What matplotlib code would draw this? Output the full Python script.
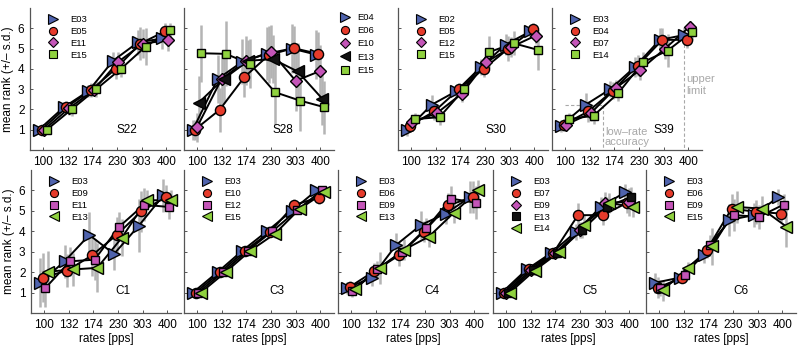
import numpy as np
import matplotlib.pyplot as plt
from matplotlib.lines import Line2D

plt.rcParams['font.family'] = ['Liberation Sans', 'DejaVu Sans']

rates = ['100', '132', '174', '230', '303', '400']

BLUE = '#4f63ad'
RED = '#e63b2b'
MAG = '#c455b8'
GREEN = '#8fd13f'
BLACK = '#111111'

# ---- top row (S listeners) ----
S22_labels = ['E03', 'E05', 'E11', 'E15']
S22_means = [[1.0, 2.1, 2.9, 4.4, 5.3, 5.5],
             [1.0, 2.1, 2.95, 4.0, 5.25, 5.85],
             [1.0, 2.05, 2.95, 4.35, 5.25, 5.4],
             [1.0, 2.0, 3.0, 4.0, 5.1, 5.9]]
S22_sds = [[0.15, 0.25, 0.3, 0.45, 0.6, 0.5],
           [0.2, 0.3, 0.35, 0.5, 0.8, 0.4],
           [0.2, 0.3, 0.3, 0.5, 0.7, 0.5],
           [0.15, 0.3, 0.4, 0.4, 0.9, 0.35]]

S28_labels = ['E04', 'E06', 'E10', 'E13', 'E15']
S28_means = [[1.0, 3.5, 4.35, 4.75, 5.0, 4.7],
             [1.0, 1.98, 3.59, 4.69, 5.02, 4.74],
             [1.11, 3.5, 4.4, 4.85, 3.41, 3.9],
             [2.34, 3.5, 4.4, 4.48, 3.87, 2.52],
             [4.77, 4.74, 4.25, 2.85, 2.44, 2.11]]
S28_sds = [[0.5, 1.2, 1.1, 1.3, 1.2, 1.2],
           [0.5, 1.1, 1.0, 1.4, 1.1, 1.1],
           [0.7, 1.3, 1.2, 1.3, 1.5, 1.3],
           [1.3, 1.2, 1.0, 1.2, 1.4, 1.3],
           [1.4, 1.6, 1.2, 1.6, 1.5, 1.3]]

S30_labels = ['E02', 'E05', 'E12', 'E15']
S30_means = [[1.0, 2.23, 2.9, 4.1, 5.2, 5.85],
             [1.2, 1.9, 3.0, 4.0, 5.0, 5.95],
             [1.36, 1.82, 2.77, 4.33, 5.07, 5.64],
             [1.52, 1.62, 3.0, 4.82, 5.26, 4.93]]
S30_sds = [[0.3, 0.5, 0.3, 0.4, 0.5, 0.3],
           [0.3, 0.4, 0.3, 0.4, 0.6, 0.3],
           [0.3, 0.4, 0.4, 0.4, 0.5, 0.4],
           [0.3, 0.4, 0.3, 0.8, 0.6, 1.0]]

S39_labels = ['E03', 'E04', 'E07', 'E14']
S39_means = [[1.2, 2.23, 3.0, 4.1, 5.43, 5.67],
             [1.25, 1.9, 2.93, 4.16, 5.43, 5.43],
             [1.25, 1.82, 3.05, 3.95, 5.0, 6.08],
             [1.52, 1.69, 2.8, 4.33, 4.9, 5.84]]
S39_sds = [[0.3, 0.6, 0.4, 0.5, 0.6, 0.4],
           [0.3, 0.5, 0.4, 0.5, 0.6, 0.4],
           [0.3, 0.4, 0.4, 0.5, 0.5, 0.3],
           [0.3, 0.4, 0.4, 0.5, 0.8, 0.4]]

# ---- bottom row (C listeners) ----
C1_labels = ['E03', 'E09', 'E11', 'E13']
C1_means = [[1.48, 2.53, 3.82, 2.89, 4.27, 5.76],
            [1.73, 2.08, 2.82, 3.82, 4.98, 5.68],
            [1.21, 2.53, 2.61, 4.23, 5.3, 5.19],
            [2.02, 2.13, 2.21, 3.69, 5.52, 5.52]]
C1_sds = [[1.2, 0.8, 1.1, 0.8, 1.3, 0.8],
          [1.2, 0.8, 1.0, 0.9, 1.0, 0.6],
          [0.9, 0.7, 1.0, 0.7, 0.8, 0.6],
          [1.0, 0.8, 1.2, 0.9, 0.5, 0.5]]

C3_labels = ['E03', 'E10', 'E12', 'E15']
C3_means = [[1.0, 2.0, 3.05, 4.0, 5.0, 6.0],
            [1.0, 2.0, 3.05, 3.95, 5.3, 5.65],
            [1.0, 2.0, 3.05, 4.0, 5.03, 6.0],
            [1.0, 2.0, 3.05, 3.88, 5.1, 5.9]]
C3_sds = [[0.1, 0.1, 0.2, 0.2, 0.2, 0.1],
          [0.1, 0.1, 0.2, 0.2, 0.3, 0.3],
          [0.1, 0.1, 0.2, 0.2, 0.2, 0.1],
          [0.1, 0.1, 0.2, 0.2, 0.2, 0.1]]

C4_labels = ['E03', 'E06', 'E09', 'E13']
C4_means = [[1.21, 1.73, 3.34, 4.31, 4.87, 5.68],
            [1.27, 2.05, 2.82, 3.98, 5.27, 5.68],
            [1.08, 2.13, 2.98, 4.15, 5.6, 5.4],
            [1.16, 2.21, 3.1, 3.74, 4.9, 6.0]]
C4_sds = [[0.3, 0.4, 0.6, 0.7, 0.5, 0.8],
          [0.3, 0.4, 0.5, 0.5, 0.6, 0.8],
          [0.3, 0.4, 0.4, 0.5, 0.6, 0.8],
          [0.3, 0.8, 0.5, 0.5, 0.5, 0.5]]

C5_labels = ['E03', 'E07', 'E09', 'E13', 'E14']
C5_means = [[1.0, 2.13, 2.94, 3.98, 5.19, 5.92],
            [1.0, 2.13, 2.94, 4.79, 4.79, 5.4],
            [1.0, 2.1, 2.95, 4.06, 5.4, 5.44],
            [1.0, 2.1, 2.95, 4.06, 5.2, 5.68],
            [1.0, 2.08, 2.98, 4.3, 5.39, 5.19]]
C5_sds = [[0.1, 0.2, 0.25, 0.4, 0.5, 0.4],
          [0.1, 0.2, 0.25, 0.6, 0.5, 0.5],
          [0.1, 0.2, 0.25, 0.4, 0.5, 0.7],
          [0.1, 0.2, 0.25, 0.4, 0.5, 0.5],
          [0.1, 0.2, 0.25, 0.5, 0.5, 0.5]]

C6_labels = ['E03', 'E06', 'E09', 'E15']
C6_means = [[1.48, 1.73, 2.85, 4.55, 4.79, 5.68],
            [1.24, 1.73, 3.1, 5.11, 4.95, 4.87],
            [1.21, 1.84, 3.34, 4.79, 4.71, 5.31],
            [1.11, 2.21, 3.26, 5.19, 5.11, 4.23]]
C6_sds = [[0.5, 0.2, 0.4, 0.8, 0.6, 0.4],
          [0.5, 0.2, 0.4, 0.7, 0.6, 0.4],
          [0.4, 0.2, 0.5, 0.8, 0.6, 0.5],
          [0.5, 0.3, 0.9, 0.8, 0.6, 1.0]]

# marker / colour per series, in legend order
S22_styles = [('>', BLUE), ('o', RED), ('D', MAG), ('s', GREEN)]
S28_styles = [('>', BLUE), ('o', RED), ('D', MAG), ('<', BLACK), ('s', GREEN)]
C_styles = [('>', BLUE), ('o', RED), ('s', MAG), ('<', GREEN)]
C5_styles = [('>', BLUE), ('o', RED), ('D', MAG), ('s', BLACK), ('<', GREEN)]

MS = {'>': 8.5, '<': 8.5, 'o': 7.3, 'D': 6.2, 's': 6.4}

W, H = 798, 347
fig = plt.figure(figsize=(W / 100, H / 100), dpi=100)


def panel(left_px, top_px, bottom_px, means, sds, labels, styles, name,
          name_xy, ylabels=False, xlabel=False, leg_xy=(0.13, 0.95),
          leg_space=0.3, leg_pad=1.4):
    ax = fig.add_axes([left_px / W, 1 - bottom_px / H, 150 / W, (bottom_px - top_px) / H])
    n = len(means)
    offs = np.linspace(-0.16, 0.16, n)
    x = np.arange(1, 7)
    for i in range(n):
        xx = x + offs[i]
        ax.errorbar(xx, means[i], yerr=sds[i], fmt='none', ecolor='#b4b4b4',
                    elinewidth=1.8, capsize=0, zorder=1)
    for i in range(n):
        xx = x + offs[i]
        ax.plot(xx, means[i], color='black', lw=1.4, zorder=2)
    for i in range(n):
        xx = x + offs[i]
        m, c = styles[i]
        ax.plot(xx, means[i], ls='none', marker=m, ms=MS[m], mfc=c, mec='black',
                mew=1.0, zorder=3 + i)
    ax.set_xlim(0.48, 6.55)
    ax.set_ylim(0, 7)
    ax.set_xticks(x)
    ax.set_xticklabels(rates)
    ax.set_yticks(range(1, 7))
    if not ylabels:
        ax.set_yticklabels([])
    for s in ['top', 'right']:
        ax.spines[s].set_visible(False)
    for s in ['left', 'bottom']:
        ax.spines[s].set_color('#555555')
        ax.spines[s].set_linewidth(0.9)
    ax.tick_params(direction='in', length=2.5, width=0.7, color='#555555',
                   labelsize=8.5, pad=4)
    ax.text(name_xy[0], name_xy[1], name, ha='center', va='center', fontsize=8.5)
    handles = [Line2D([], [], ls='none', marker=m, ms=MS[m] * 0.8, mfc=c,
                      mec='black', mew=0.8) for m, c in styles]
    ax.legend(handles, labels, loc='upper left', bbox_to_anchor=leg_xy,
              frameon=False, fontsize=6.8, handlelength=0.8, handletextpad=leg_pad,
              labelspacing=leg_space, borderaxespad=0, borderpad=0)
    if xlabel:
        ax.set_xlabel('rates [pps]', fontsize=8.5, labelpad=2)
    return ax


ax = panel(30, 8, 150, S22_means, S22_sds, S22_labels, S22_styles, 'S22', (4.4, 1.0),
           ylabels=True)
ax.set_ylabel('mean rank (+/\u2013 s.d.)', fontsize=8.5, labelpad=3)
panel(184, 8, 150, S28_means, S28_sds, S28_labels, S28_styles, 'S28', (4.5, 1.0),
      leg_xy=(1.05, 0.965), leg_space=0.45, leg_pad=0.9)
panel(398, 8, 150, S30_means, S30_sds, S30_labels, S22_styles, 'S30', (4.45, 1.0))
ax = panel(552, 8, 150, S39_means, S39_sds, S39_labels, S22_styles, 'S39', (5.0, 1.0))
gray = '#a8a8a8'
ax.plot([1.0, 2.55], [2.2, 2.2], ls=(0, (3, 2)), color=gray, lw=0.8, zorder=0)
ax.plot([2.55, 2.55], [2.2, 0], ls=(0, (3, 2)), color=gray, lw=0.8, zorder=0)
ax.plot([5.84, 5.84], [5.75, 0], ls=(0, (3, 2)), color=gray, lw=0.8, zorder=0)
ax.text(2.62, 0.65, 'low\u2013rate\naccuracy', color=gray, fontsize=8, ha='left',
        va='center', linespacing=1.0)
ax.text(5.92, 3.2, 'upper\nlimit', color=gray, fontsize=8, ha='left', va='center',
        linespacing=1.2)

ax = panel(31, 170, 313, C1_means, C1_sds, C1_labels, C_styles, 'C1', (4.2, 1.08),
           ylabels=True, xlabel=True)
ax.set_ylabel('mean rank (+/\u2013 s.d.)', fontsize=8.5, labelpad=3)
panel(184, 170, 313, C3_means, C3_sds, C3_labels, C_styles, 'C3', (4.25, 1.1), xlabel=True)
panel(338, 170, 313, C4_means, C4_sds, C4_labels, C_styles, 'C4', (4.28, 1.1), xlabel=True)
panel(493, 170, 313, C5_means, C5_sds, C5_labels, C5_styles, 'C5', (4.39, 1.1), xlabel=True)
panel(646, 170, 313, C6_means, C6_sds, C6_labels, C_styles, 'C6', (4.32, 1.1), xlabel=True)

fig.savefig('out.png', dpi=100)
